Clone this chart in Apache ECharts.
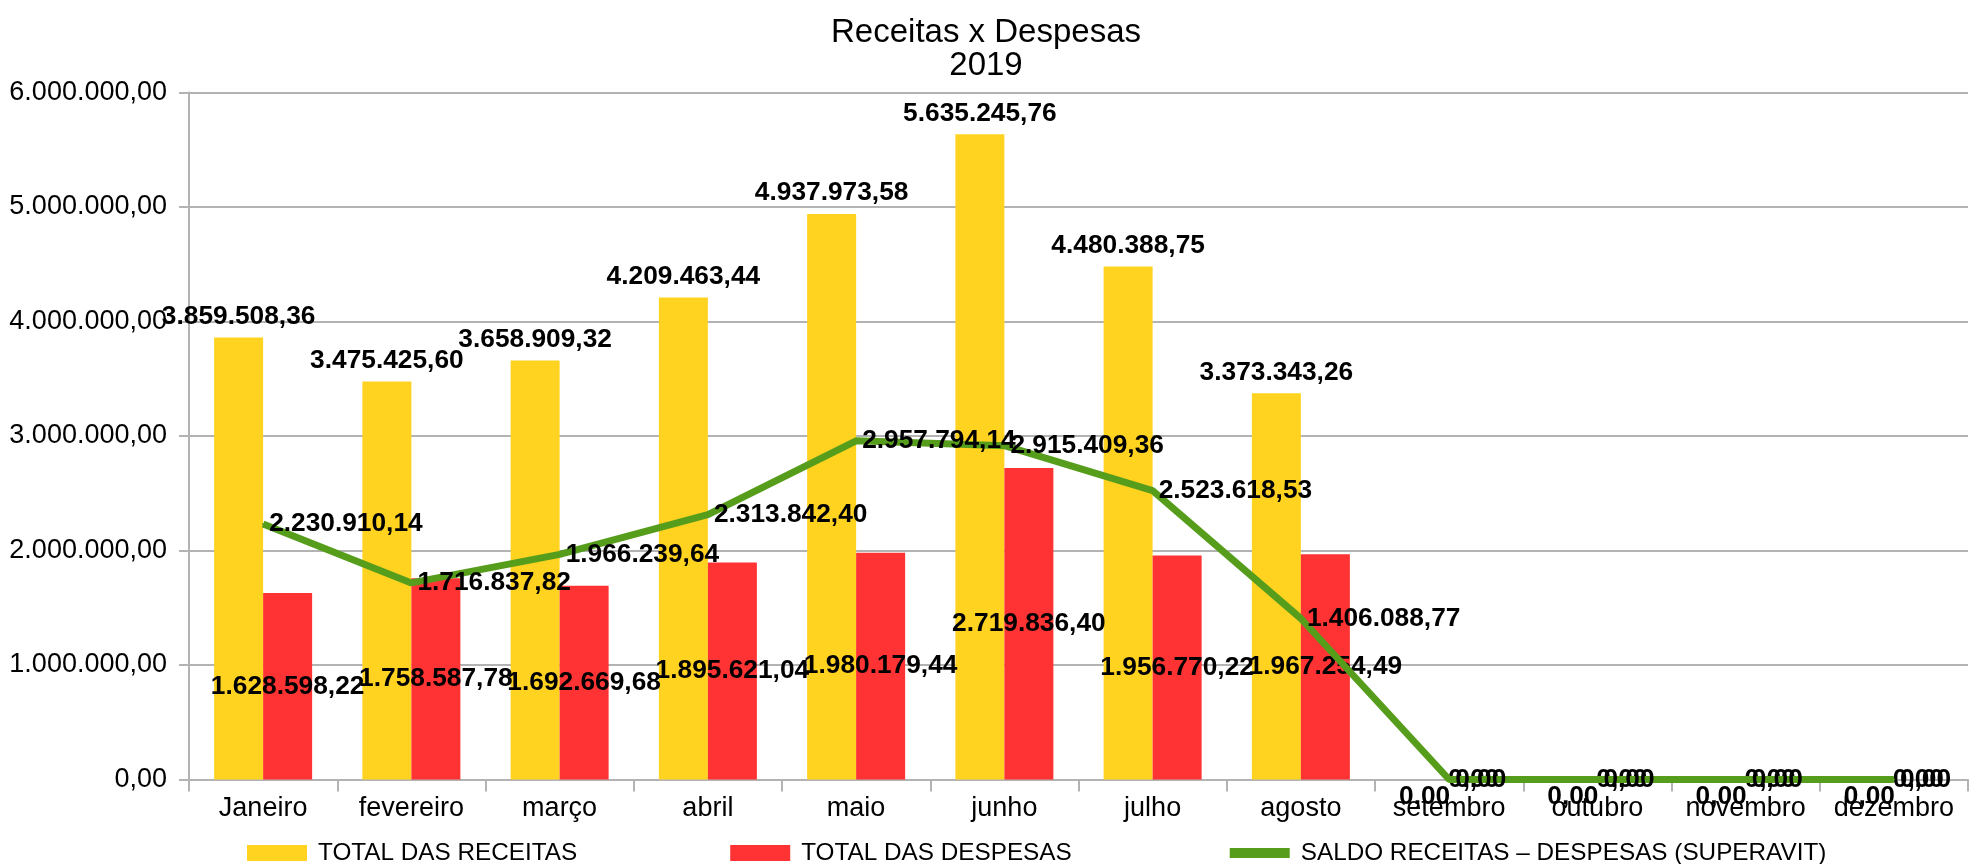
<!DOCTYPE html>
<html>
<head>
<meta charset="utf-8">
<script src="https://cdn.jsdelivr.net/npm/echarts@6/dist/echarts.min.js"></script>
<style>
html,body{margin:0;padding:0;background:#fff;}
#chart{width:1972px;height:864px;}
</style>
</head>
<body>
<div id="chart"></div>
<script>
const titleText = 'Receitas x Despesas';
const subtitleText = '2019';
const months = ['Janeiro','fevereiro','março','abril','maio','junho','julho','agosto','setembro','outubro','novembro','dezembro'];
const receitas = [3859508.36, 3475425.60, 3658909.32, 4209463.44, 4937973.58, 5635245.76, 4480388.75, 3373343.26, 0, 0, 0, 0];
const despesas = [1628598.22, 1758587.78, 1692669.68, 1895621.04, 1980179.44, 2719836.40, 1956770.22, 1967254.49, 0, 0, 0, 0];
const saldo = [2230910.14, 1716837.82, 1966239.64, 2313842.40, 2957794.14, 2915409.36, 2523618.53, 1406088.77, 0, 0, 0, 0];
const seriesNames = ['TOTAL DAS RECEITAS', 'TOTAL DAS DESPESAS', 'SALDO RECEITAS – DESPESAS (SUPERAVIT)'];
const yMin = 0, yMax = 6000000, yStep = 1000000;

function fmt(v) {
  const s = Math.abs(v).toFixed(2).split('.');
  const intPart = s[0].replace(/\B(?=(\d{3})+(?!\d))/g, '.');
  return (v < 0 ? '-' : '') + intPart + ',' + s[1];
}

const FONT = '"Liberation Sans", Arial, sans-serif';
const labelStyle = { fontFamily: FONT, fontSize: 26.3, fontWeight: 'bold', color: '#000' };

const chart = echarts.init(document.getElementById('chart'));
chart.setOption({
  animation: false,
  backgroundColor: '#fff',
  title: {
    text: titleText + '\n' + subtitleText,
    left: 'center',
    top: 11,
    textStyle: { fontFamily: FONT, fontSize: 33, fontWeight: 'normal', color: '#000', lineHeight: 33 }
  },
  legend: {
    left: 242,
    top: 836,
    itemWidth: 60,
    itemHeight: 16,
    itemGap: 153,
    textStyle: { fontFamily: FONT, fontSize: 24.3, color: '#000', padding: [0, 0, 0, 6] },
    data: [
      { name: seriesNames[0], icon: 'rect' },
      { name: seriesNames[1], icon: 'rect' },
      { name: seriesNames[2], lineStyle: { width: 10 }, itemStyle: { opacity: 0 } }
    ]
  },
  grid: { left: 189, right: 4, top: 92.5, bottom: 84.5 },
  xAxis: {
    type: 'category',
    data: months,
    axisLine: { lineStyle: { color: '#b3b3b3', width: 2 } },
    axisTick: { show: true, length: 12, lineStyle: { color: '#b3b3b3', width: 2 } },
    axisLabel: { fontFamily: FONT, fontSize: 27, color: '#000', margin: 16, interval: 0 }
  },
  yAxis: {
    type: 'value',
    min: yMin, max: yMax, interval: yStep,
    axisLine: { show: true, lineStyle: { color: '#b3b3b3', width: 2 } },
    axisTick: { show: true, length: 10, lineStyle: { color: '#b3b3b3', width: 2 } },
    splitLine: { lineStyle: { color: '#b3b3b3', width: 2 } },
    axisLabel: { fontFamily: FONT, fontSize: 27, color: '#000', margin: 22, formatter: v => fmt(v) }
  },
  series: [
    {
      name: seriesNames[0],
      type: 'bar',
      barWidth: 49,
      barGap: '0%',
      itemStyle: { color: '#FFD320' },
      label: Object.assign({ show: true, position: 'top', distance: 8, formatter: p => fmt(p.value) }, labelStyle),
      data: receitas.map(v => v === 0 ? { value: v, label: { position: 'bottom', distance: 4 } } : v),
      z: 2
    },
    {
      name: seriesNames[1],
      type: 'bar',
      barWidth: 49,
      barGap: '0%',
      itemStyle: { color: '#FF3333' },
      label: Object.assign({ show: true, position: 'inside', formatter: p => fmt(p.value) }, labelStyle),
      data: despesas,
      z: 2
    },
    {
      name: seriesNames[2],
      type: 'line',
      symbol: 'circle',
      symbolSize: 2,
      itemStyle: { color: '#579D1C' },
      lineStyle: { color: '#579D1C', width: 7 },
      label: Object.assign({ show: true, position: 'right', distance: 5, formatter: p => fmt(p.value) }, labelStyle),
      data: saldo,
      z: 3
    }
  ]
});
</script>
</body>
</html>
